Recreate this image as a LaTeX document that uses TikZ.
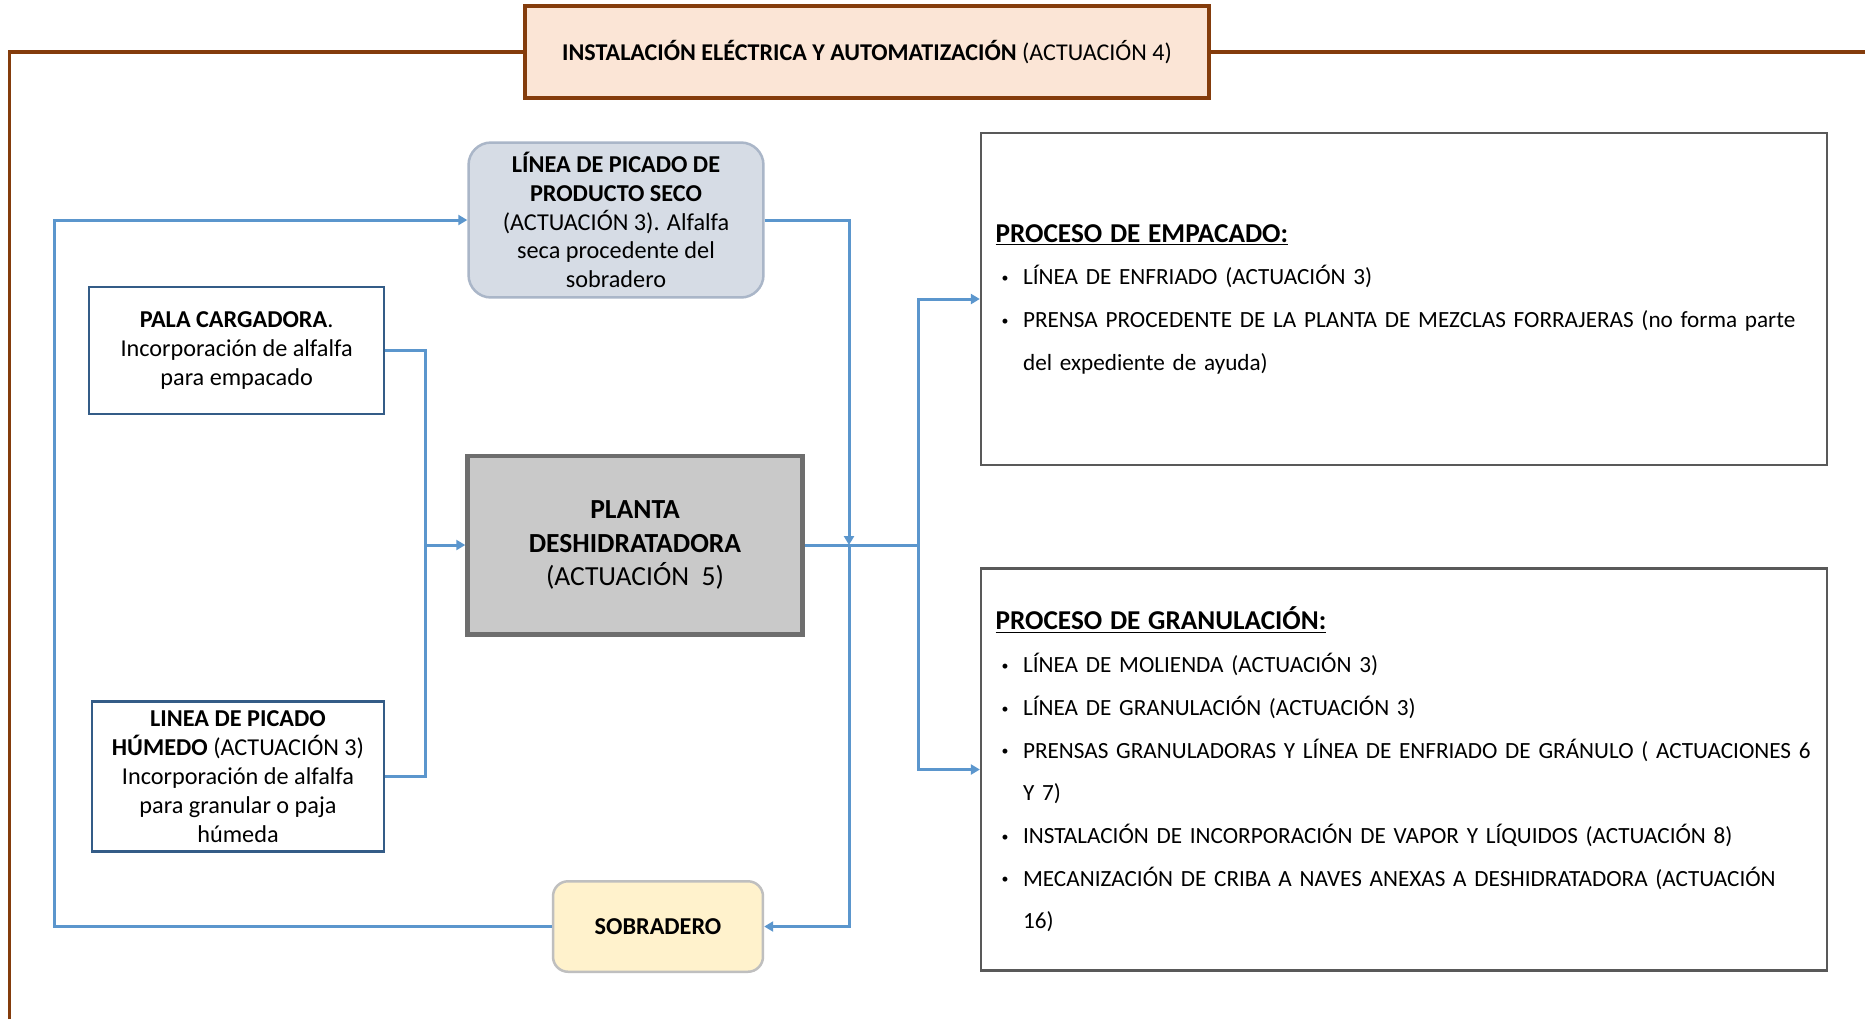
\documentclass[tikz,border=0pt]{standalone}
\usepackage{fontspec}
\setmainfont{Carlito}
\usepackage{tikz}
\usetikzlibrary{arrows.meta,positioning,calc}
\definecolor{marron}{RGB}{132,60,12}
\definecolor{salmon}{RGB}{251,229,214}
\definecolor{azul}{RGB}{91,150,205}
\definecolor{azulosc}{RGB}{52,92,135}
\definecolor{grisazul}{RGB}{214,220,229}
\definecolor{bordeazul}{RGB}{170,182,200}
\definecolor{crema}{RGB}{255,242,204}
\newcommand{\itm}{\makebox[0.55cm][l]{\hspace{0.12cm}\raisebox{0.2ex}{\scalebox{0.6}{\textbullet}}}}
\newcommand{\sangria}{\hspace*{0.55cm}}
\newcommand{\encab}[1]{{\fontsize{15.5}{24.3}\selectfont\textbf{\underline{#1}}}}

\begin{document}
\begin{tikzpicture}[x=0.02cm,y=-0.02cm,
  caja/.style={draw=azulosc,line width=0.05cm,fill=white,align=center,inner sep=0pt,font=\fontsize{13.8}{16.4}\selectfont},
  proceso/.style={draw=black!65,line width=0.05cm,fill=white,align=left,inner xsep=0.29cm,text width=16.34cm,minimum width=16.92cm,font=\fontsize{13.2}{24.3}\selectfont},
  flujo/.style={draw=azul,line width=0.06cm},
  flecha/.style={flujo,-{Triangle[length=0.18cm,width=0.2cm]}}]
\useasboundingbox (0,0) rectangle (1865,1019);
\fill[white] (0,0) rectangle (1865,1019);
% marco general
\draw[marron,line width=0.07cm] (9.5,1019) -- (9.5,52) -- (1865,52);
\node[draw=marron,line width=0.08cm,fill=salmon,minimum width=13.7cm,minimum height=1.83cm,font=\fontsize{13.7}{16}\selectfont] (tit) at (867,52) {\textbf{INSTALACIÓN ELÉCTRICA Y AUTOMATIZACIÓN} (ACTUACIÓN 4)};

% cajas de entrada
\node[caja,draw=bordeazul,fill=grisazul,rounded corners=0.45cm,minimum width=5.9cm,minimum height=3.1cm] (seco) at (616,220) {\textbf{LÍNEA DE PICADO DE}\\\textbf{PRODUCTO SECO}\\(ACTUACIÓN 3). Alfalfa\\seca procedente del\\sobradero};
\node[caja,minimum width=5.9cm,minimum height=2.54cm] (pala) at (236.6,350.3) {\textbf{PALA CARGADORA}.\\Incorporación de alfalfa\\para empacado};
\node[caja,minimum width=5.85cm,minimum height=3.0cm] (hum) at (238,776.7) {\textbf{LINEA DE PICADO}\\\textbf{HÚMEDO} (ACTUACIÓN 3)\\Incorporación de alfalfa\\para granular o paja\\húmeda};
\node[caja,draw=black!57,fill=black!21,line width=0.09cm,minimum width=6.7cm,minimum height=3.57cm,font=\fontsize{15.7}{19.2}\selectfont] (planta) at (635,545) {\textbf{PLANTA}\\\textbf{DESHIDRATADORA}\\(ACTUACIÓN\ \ 5)};
\node[caja,draw=black!25,fill=crema,rounded corners=0.3cm,minimum width=4.2cm,minimum height=1.81cm] (sob) at (658,926.5) {\textbf{SOBRADERO}};

% procesos
\node[proceso,minimum height=6.64cm] (emp) at (1404,299) {\encab{PROCESO DE EMPACADO:}\\
\itm LÍNEA DE ENFRIADO (ACTUACIÓN 3)\\
\itm PRENSA PROCEDENTE DE LA PLANTA DE MEZCLAS FORRAJERAS (no forma parte\\
\sangria del expediente de ayuda)};
\node[proceso,minimum height=8.04cm] (gran) at (1404,769.5) {\encab{PROCESO DE GRANULACIÓN:}\\
\itm LÍNEA DE MOLIENDA (ACTUACIÓN 3)\\
\itm LÍNEA DE GRANULACIÓN (ACTUACIÓN 3)\\
\itm PRENSAS GRANULADORAS Y LÍNEA DE ENFRIADO DE GRÁNULO ( ACTUACIONES 6\\
\sangria Y 7)\\
\itm INSTALACIÓN DE INCORPORACIÓN DE VAPOR Y LÍQUIDOS (ACTUACIÓN 8)\\
\itm MECANIZACIÓN DE CRIBA A NAVES ANEXAS A DESHIDRATADORA (ACTUACIÓN\\
\sangria 16)};

% conexiones
\coordinate (izq) at (54.7,220);
\coordinate (col) at (425.8,545);
\coordinate (cruce) at (849,545);
\coordinate (rep) at (918,545);
\draw[flecha] (sob.west) -| (izq) -- (seco.west);
\draw[flujo] (pala.east) -| (col);
\draw[flujo] (hum.east) -| (col);
\draw[flecha] (col) -- (planta.west);
\draw[flecha] (seco.east) -| (cruce);
\draw[flecha] (cruce) |- (sob.east);
\draw[flujo] (planta.east) -- (rep);
\draw[flecha] (rep) |- (emp.west);
\draw[flecha] (rep) |- (gran.west);
\end{tikzpicture}
\end{document}
